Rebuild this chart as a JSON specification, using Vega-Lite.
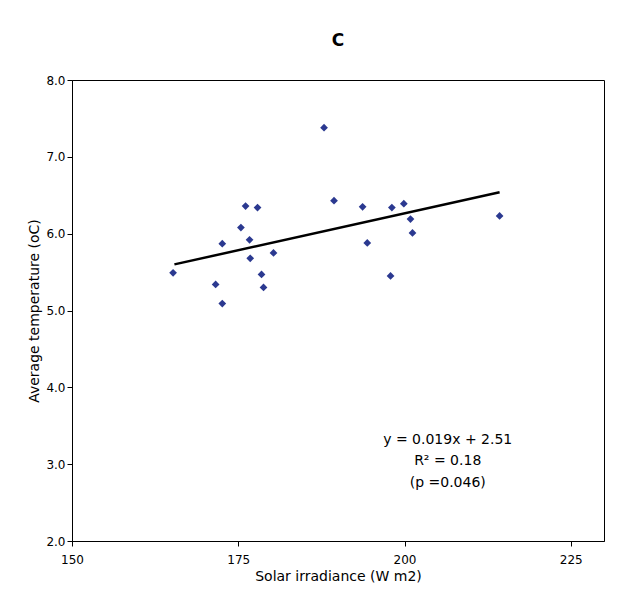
{
  "$schema": "https://vega.github.io/schema/vega-lite/v6.json",
  "autosize": "none",
  "padding": {"left": 72, "top": 80, "right": 15, "bottom": 55},
  "width": 532,
  "height": 461,
  "background": "white",
  "config": {"font": "DejaVu Sans", "view": {"stroke": "black", "strokeWidth": 1}},
  "title": {"text": "C", "fontSize": 17, "fontWeight": "bold", "offset": 24, "color": "black"},
  "layer": [
    {
      "data": {"values": [
        {"x": 165.2, "y": 5.49}, {"x": 171.6, "y": 5.34}, {"x": 172.6, "y": 5.87},
        {"x": 172.6, "y": 5.09}, {"x": 175.4, "y": 6.08}, {"x": 176.1, "y": 6.36},
        {"x": 176.7, "y": 5.92}, {"x": 176.8, "y": 5.68}, {"x": 177.9, "y": 6.34},
        {"x": 178.5, "y": 5.47}, {"x": 178.8, "y": 5.30}, {"x": 180.3, "y": 5.75},
        {"x": 187.9, "y": 7.38}, {"x": 189.4, "y": 6.43}, {"x": 193.7, "y": 6.35},
        {"x": 194.4, "y": 5.88}, {"x": 198.1, "y": 6.34}, {"x": 197.9, "y": 5.45},
        {"x": 199.9, "y": 6.39}, {"x": 200.9, "y": 6.19}, {"x": 201.2, "y": 6.01},
        {"x": 214.3, "y": 6.23}
      ]},
      "mark": {"type": "point", "shape": "diamond", "filled": true, "color": "#2B3990", "size": 60, "opacity": 1},
      "encoding": {
        "x": {"field": "x", "type": "quantitative", "scale": {"domain": [150, 225]},
          "axis": {"values": [150, 175, 200, 225], "grid": false, "labelFlush": false, "title": "Solar irradiance (W m2)",
            "titleFontSize": 14, "titleFontWeight": "normal", "labelFontSize": 12, "labelPadding": 8, "titleColor": "black", "labelColor": "black", "domainColor": "black", "tickColor": "black"}},
        "y": {"field": "y", "type": "quantitative", "scale": {"domain": [2, 8]},
          "axis": {"values": [2, 3, 4, 5, 6, 7, 8], "format": ".1f", "grid": false, "labelFlush": false, "title": "Average temperature (oC)",
            "titleFontSize": 14, "titleFontWeight": "normal", "labelFontSize": 12, "titleColor": "black", "labelColor": "black", "domainColor": "black", "tickColor": "black"}}
      }
    },
    {
      "data": {"values": [{"x": 165.4, "y": 5.60}, {"x": 214.3, "y": 6.54}]},
      "mark": {"type": "line", "color": "black", "strokeWidth": 2.5},
      "encoding": {"x": {"field": "x", "type": "quantitative"}, "y": {"field": "y", "type": "quantitative"}}
    },
    {
      "data": {"values": [
        {"x": 206.5, "y": 3.31, "t": "y = 0.019x + 2.51"},
        {"x": 206.5, "y": 3.04, "t": "R² = 0.18"},
        {"x": 206.5, "y": 2.75, "t": "(p =0.046)"}
      ]},
      "mark": {"type": "text", "fontSize": 14, "color": "black", "align": "center"},
      "encoding": {"x": {"field": "x", "type": "quantitative"}, "y": {"field": "y", "type": "quantitative"}, "text": {"field": "t"}}
    }
  ]
}
